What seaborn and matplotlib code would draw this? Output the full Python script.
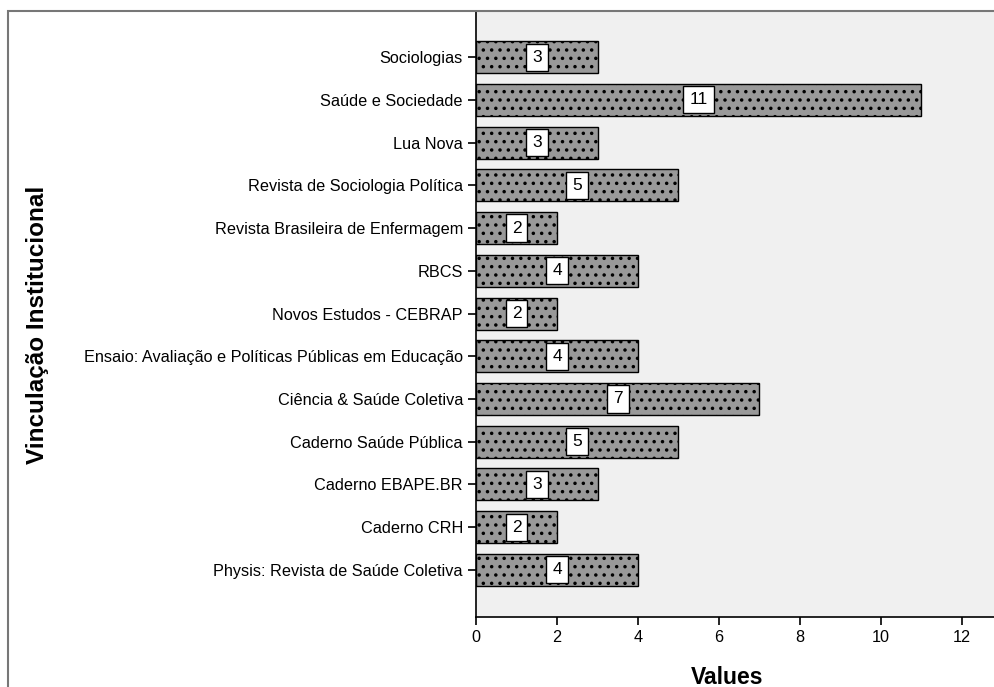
import matplotlib
matplotlib.use("Agg")
import matplotlib.pyplot as plt
import matplotlib.patches as mpatches
import pandas as pd
import seaborn as sns

# data
journals = ['Sociologias', 'Saúde e Sociedade', 'Lua Nova', 'Revista de Sociologia Política',
            'Revista Brasileira de Enfermagem', 'RBCS', 'Novos Estudos - CEBRAP',
            'Ensaio: Avaliação e Políticas Públicas em Educação', 'Ciência & Saúde Coletiva',
            'Caderno Saúde Pública', 'Caderno EBAPE.BR', 'Caderno CRH',
            'Physis: Revista de Saúde Coletiva']
counts = [3, 11, 3, 5, 2, 4, 2, 4, 7, 5, 3, 2, 4]

df = pd.DataFrame({'journal': journals, 'count': counts})

sns.set_style("ticks")
plt.rcParams['font.family'] = ['Liberation Sans', 'DejaVu Sans']
plt.rcParams['text.color'] = 'black'
plt.rcParams['xtick.color'] = 'black'
plt.rcParams['ytick.color'] = 'black'
plt.rcParams['axes.labelcolor'] = 'black'
plt.rcParams['hatch.color'] = 'black'
plt.rcParams['hatch.linewidth'] = 1.3

fig = plt.figure(figsize=(9.94, 6.87), dpi=100)
ax = fig.add_axes([0.479, 0.102, 0.521, 0.882])
ax.set_facecolor('#F0F0F0')

sns.barplot(data=df, x='count', y='journal', orient='h', color='#999999',
            edgecolor='black', linewidth=1.0, width=0.75, saturation=1, ax=ax)
for p in ax.patches:
    p.set_hatch('..')

# value labels in white boxes at the bar middle
for i, v in enumerate(counts):
    ax.text(v / 2, i, str(v), ha='center', va='center', fontsize=12.5,
            bbox=dict(boxstyle='square,pad=0.35', fc='white', ec='black', lw=1.0))

ax.set_xlim(0, 12.8)
ax.set_ylim(13.1, -1.08)
ax.set_xticks([0, 2, 4, 6, 8, 10, 12])
ax.tick_params(axis='both', labelsize=11.7, length=6, width=1.2, color='black')
ax.set_xlabel('')
ax.set_ylabel('')
for s in ['top', 'right']:
    ax.spines[s].set_visible(False)
for s in ['left', 'bottom']:
    ax.spines[s].set_linewidth(1.2)
    ax.spines[s].set_color('black')

fig.text(727 / 994, 1 - 677 / 687, 'Values', ha='center', va='center',
         fontsize=16.5, fontweight='bold')
fig.text(0.038, 0.527, 'Vinculação Institucional', rotation=90, ha='center', va='center',
         fontsize=17.5, fontweight='bold')

# outer gray frame
fig.add_artist(mpatches.Rectangle((0.008, -0.1), 1.2, 1.084, transform=fig.transFigure,
                                  fill=False, edgecolor='#777777', linewidth=1.5))

plt.savefig('out.png', dpi=100)
